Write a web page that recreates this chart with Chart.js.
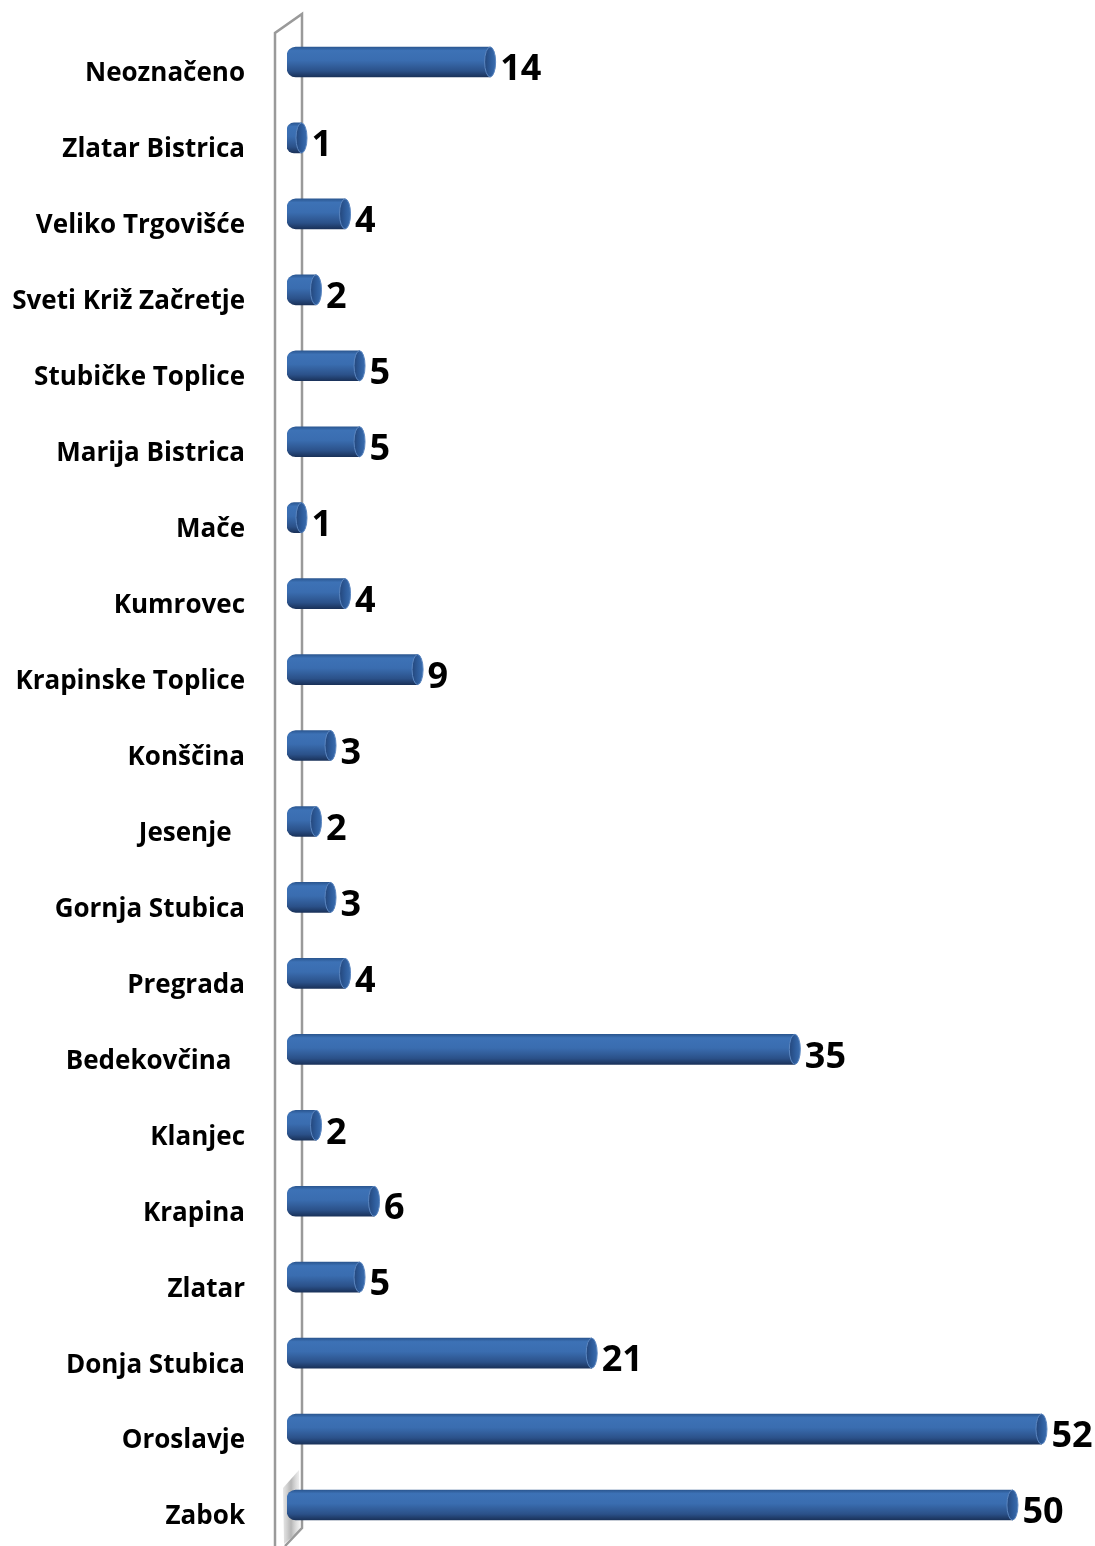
<!DOCTYPE html>
<html>
<head>
<meta charset="utf-8">
<script src="https://cdn.jsdelivr.net/npm/chart.js@4/dist/chart.umd.min.js"></script>
<style>
  html, body { margin:0; padding:0; background:#fff; }
  #chart { display:block; }
</style>
</head>
<body>
<canvas id="chart" width="1095" height="1546"></canvas>
<script>
// Podaci
const labels = ["Neoznačeno","Zlatar Bistrica","Veliko Trgovišće","Sveti Križ Začretje","Stubičke Toplice",
  "Marija Bistrica","Mače","Kumrovec","Krapinske Toplice","Konščina","Jesenje  ","Gornja Stubica",
  "Pregrada","Bedekovčina  ","Klanjec","Krapina","Zlatar","Donja Stubica","Oroslavje","Zabok"];
const values = [14,1,4,2,5,5,1,4,9,3,2,3,4,35,2,6,5,21,52,50];

const BAR_H = 30;

// gradijent za "cilindar"
function barGradient(ctx){
  const chart = ctx.chart;
  if(!chart.chartArea) return "#3a6cad";
  const y = chart.scales.y.getPixelForValue(ctx.dataIndex);
  const g = chart.ctx.createLinearGradient(0, y - BAR_H/2, 0, y + BAR_H/2);
  g.addColorStop(0, "#2b5791");
  g.addColorStop(0.12, "#3d72b6");
  g.addColorStop(0.45, "#3a6db0");
  g.addColorStop(0.8, "#2b5189");
  g.addColorStop(1, "#1a325a");
  return g;
}

// 3D zid iza osi
const wall = {
  id: "wall",
  beforeDatasetsDraw(chart){
    const c = chart.ctx;
    const x0 = chart.chartArea.left;
    c.save();
    // sjena pri dnu
    const g = c.createLinearGradient(x0 - 6, 0, x0 + 14, 0);
    g.addColorStop(0, "rgba(150,150,150,0.15)");
    g.addColorStop(0.5, "rgba(120,120,120,0.55)");
    g.addColorStop(1, "rgba(200,200,200,0.2)");
    c.fillStyle = g;
    c.beginPath();
    c.moveTo(x0 - 4, 1488);
    c.lineTo(x0 + 12, 1470);
    c.lineTo(x0 + 13, 1530);
    c.lineTo(x0 - 3, 1544);
    c.closePath();
    c.fill();

    c.strokeStyle = "#9a9a9a";
    c.lineWidth = 2.5;
    c.beginPath();
    c.moveTo(x0 - 12, 1546);
    c.lineTo(x0 - 12, 33);
    c.lineTo(x0 + 15, 14);
    c.lineTo(x0 + 15, 1528);
    c.lineTo(x0 - 2, 1546);
    c.stroke();
    c.restore();
  }
};

// kapice cilindra i vrijednosti
const caps = {
  id: "caps",
  afterDatasetsDraw(chart){
    const c = chart.ctx;
    const meta = chart.getDatasetMeta(0);
    c.save();
    meta.data.forEach(function(bar, i){
      const x = bar.x, y = bar.y;
      const g = c.createLinearGradient(x - 5, 0, x + 5, 0);
      g.addColorStop(0, "#25497f");
      g.addColorStop(0.6, "#2f5e9e");
      g.addColorStop(1, "#3a6cad");
      c.fillStyle = g;
      c.beginPath();
      c.ellipse(x, y, 5.5, BAR_H/2, 0, 0, Math.PI*2);
      c.fill();
      c.strokeStyle = "#5b86c0";
      c.lineWidth = 1;
      c.stroke();

      c.fillStyle = "#000";
      c.font = "bold 36px 'Open Sans'";
      c.textAlign = "left";
      c.textBaseline = "middle";
      c.fillText(String(values[i]), x + 10, y + 8);
    });
    c.restore();
  }
};

new Chart(document.getElementById("chart"), {
  type: "bar",
  data: {
    labels: labels,
    datasets: [{
      data: values,
      backgroundColor: barGradient,
      barThickness: BAR_H,
      borderSkipped: false,
      borderRadius: { topLeft: 9, bottomLeft: 9, topRight: 0, bottomRight: 0 }
    }]
  },
  options: {
    indexAxis: "y",
    responsive: false,
    animation: false,
    layout: { padding: { top: 24, bottom: 3, right: 10, left: 0 } },
    plugins: { legend: { display: false }, tooltip: { enabled: false } },
    scales: {
      x: { display: false, min: 0, max: 55 },
      y: {
        grid: { display: false, drawTicks: false },
        border: { display: false },
        afterFit(scale){ scale.width = 287; scale.paddingTop = 0; scale.paddingBottom = 0; },
        ticks: {
          padding: 42,
          labelOffset: 12,
          color: "#000",
          font: { family: "'Open Sans'", size: 26, weight: "bold" }
        }
      }
    }
  },
  plugins: [wall, caps]
});
</script>
</body>
</html>
